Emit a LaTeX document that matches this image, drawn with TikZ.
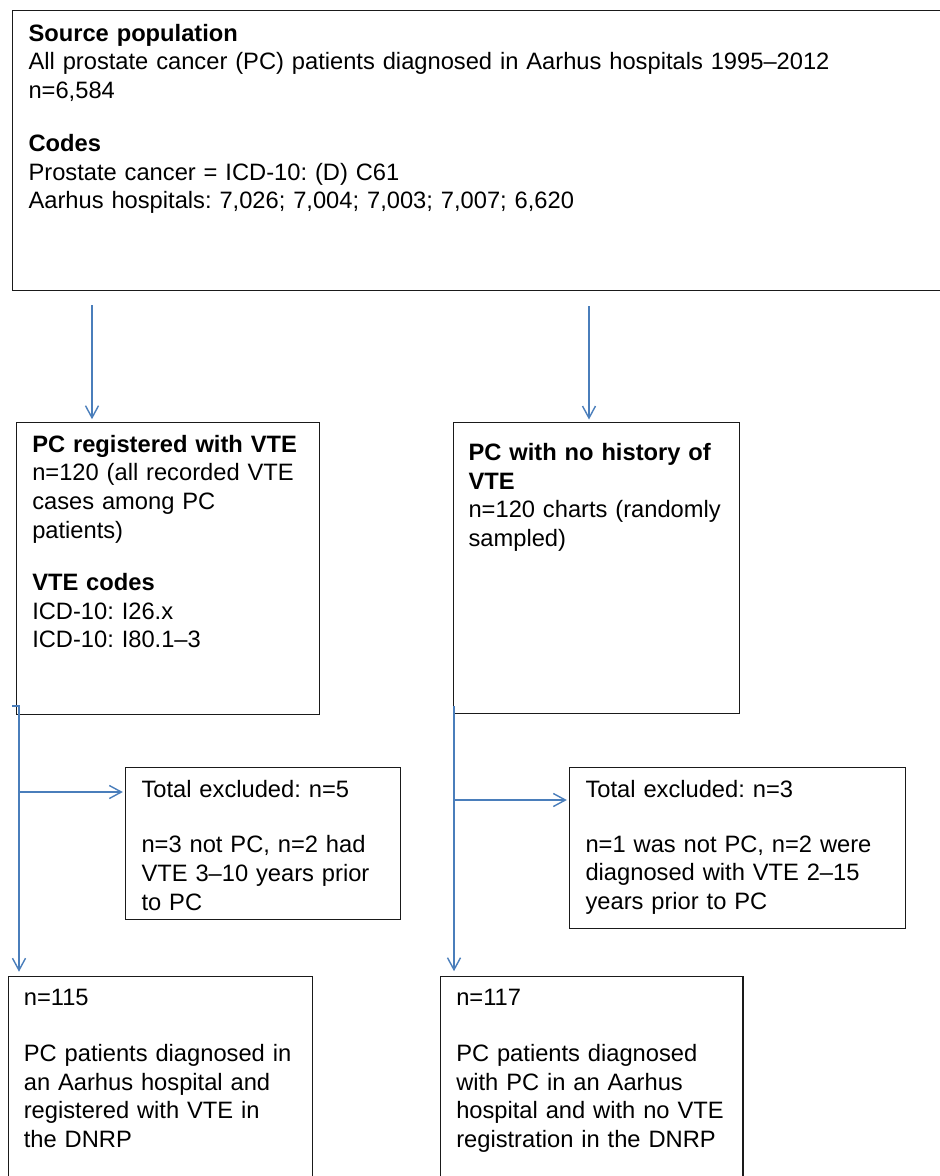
\documentclass[tikz,border=0pt]{standalone}
\usepackage{fontspec}
\setmainfont{Liberation Sans}
\usetikzlibrary{arrows.meta}
\definecolor{connblue}{HTML}{4A7EBB}
\definecolor{boxline}{HTML}{1A1A1A}
\newcommand\oneline[1]{\mbox{#1}}
\frenchspacing
\tikzset{
  flowbox/.style={draw=boxline, line width=1.1pt, rectangle, anchor=north west,
    inner ysep=0pt, align=left, font=\fontsize{23.7}{28.7}\selectfont\frenchspacing},
  connline/.style={draw=connblue, line width=1.5pt},
  connarrow/.style={connline, -{Straight Barb[length=12pt,width=13pt,line width=1.4pt]}, shorten >=2.5pt}
}
\begin{document}
\begin{tikzpicture}[x=1pt, y=-1pt]
\useasboundingbox (0,0) rectangle (940,1176);
\fill[white] (0,0) rectangle (940,1176);

% top source box
\node[flowbox, inner xsep=16pt, text width=916pt, text height=30.7pt, text depth=249.3pt] (src) at (12,10)
{\oneline{\textbf{Source population}}\\
 \oneline{All prostate cancer (PC) patients diagnosed in Aarhus hospitals 1995–2012}\\
 \oneline{n=6,584}\\[24pt]
 \oneline{\textbf{Codes}}\\
 \oneline{Prostate cancer = ICD-10: (D) C61}\\
 \oneline{Aarhus hospitals: 7,026; 7,004; 7,003; 7,007; 6,620}};

% middle boxes
\node[flowbox, inner xsep=16pt, text width=271.3pt, text height=30pt, text depth=262.3pt] (lm) at (15.7,421.7)
{\oneline{\textbf{PC registered with VTE}}\\
 \oneline{n=120 (all recorded VTE}\\
 \oneline{cases among PC}\\
 \oneline{patients)}\\[23.3pt]
 \oneline{\textbf{VTE codes}}\\
 \oneline{ICD-10: I26.x}\\
 \oneline{ICD-10: I80.1–3}};

\node[flowbox, inner xsep=15.3pt, text width=255.4pt, text height=38pt, text depth=252.7pt] (rm) at (452.7,422)
{\oneline{\textbf{PC with no history of}}\\
 \oneline{\textbf{VTE}}\\
 \oneline{n=120 charts (randomly}\\
 \oneline{sampled)}};

% exclusion boxes
\node[flowbox, inner xsep=15.7pt, text width=243.6pt, text height=30pt, text depth=122.6pt] (le) at (125.3,766.7)
{\oneline{Total excluded: n=5}\\[27pt]
 \oneline{n=3 not PC, n=2 had}\\
 \oneline{VTE 3–10 years prior}\\
 \oneline{to PC}};

\node[flowbox, inner xsep=15.7pt, text width=304pt, text height=30pt, text depth=131.3pt] (re) at (569.3,766.7)
{\oneline{Total excluded: n=3}\\[26.3pt]
 \oneline{n=1 was not PC, n=2 were}\\
 \oneline{diagnosed with VTE 2–15}\\
 \oneline{years prior to PC}};

% bottom boxes
\node[flowbox, inner xsep=15pt, text width=273.7pt, text height=29.3pt, text depth=200pt] (bl) at (8.3,975.7)
{\oneline{n=115}\\[27.3pt]
 \oneline{PC patients diagnosed in}\\
 \oneline{an Aarhus hospital and}\\
 \oneline{registered with VTE in}\\
 \oneline{the DNRP}};

\node[flowbox, inner xsep=15.7pt, text width=271pt, text height=29.3pt, text depth=200pt] (br) at (440,975.7)
{\oneline{n=117}\\[27.3pt]
 \oneline{PC patients diagnosed}\\
 \oneline{with PC in an Aarhus}\\
 \oneline{hospital and with no VTE}\\
 \oneline{registration in the DNRP}};

% connectors from source box
\coordinate (s1) at (92,305);
\coordinate (s2) at (589,306);
\draw[connarrow] (s1) -- (s1 |- lm.north);
\draw[connarrow] (s2) -- (s2 |- rm.north);

% left branch
\coordinate (h1) at (12,706);
\coordinate (v1) at (19,706);
\coordinate (b1) at (19,792);
\draw[connarrow, shorten >=4pt] (h1) -- (v1) -- (v1 |- bl.north);
\draw[connarrow] (b1) -- (b1 -| le.west);

% right branch
\coordinate (v2) at (454,706);
\coordinate (b2) at (454,800);
\draw[connarrow, shorten >=4.5pt] (v2) -- (v2 |- br.north);
\draw[connarrow] (b2) -- (b2 -| re.west);
\end{tikzpicture}
\end{document}
